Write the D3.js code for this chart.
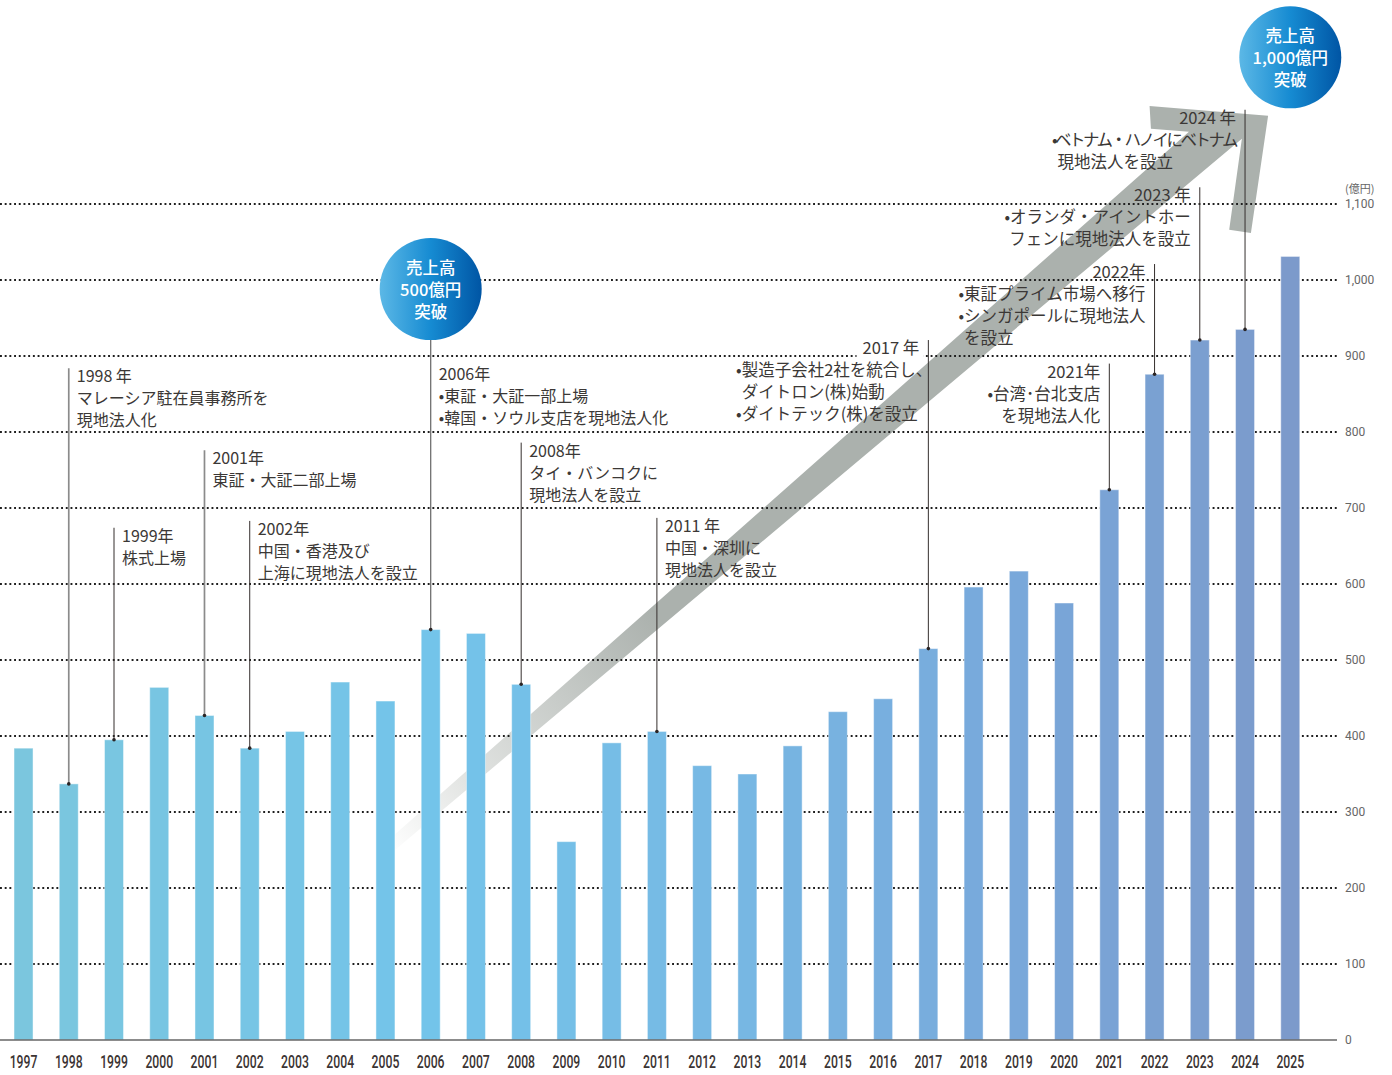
<!DOCTYPE html>
<html lang="ja">
<head>
<meta charset="utf-8">
<title>売上高推移と沿革</title>
<script src="https://cdn.jsdelivr.net/npm/d3@7"></script>
<style>
  html, body { margin: 0; padding: 0; background: #fff; }
  svg { display: block; }
</style>
</head>
<body>
<svg id="chart" width="1392" height="1075"></svg>
<script>
// ---- data -------------------------------------------------------------
const years = [1997, 1998, 1999, 2000, 2001, 2002, 2003, 2004, 2005, 2006,
               2007, 2008, 2009, 2010, 2011, 2012, 2013, 2014, 2015, 2016,
               2017, 2018, 2019, 2020, 2021, 2022, 2023, 2024, 2025];
// 売上高（億円）
const sales = [384, 337, 395, 464, 427, 384, 406, 471, 446, 540,
               535, 468, 261, 391, 406, 361, 350, 387, 432, 449,
               515, 596, 617, 575, 724, 876, 921, 935, 1031];

const yTicks = [0, 100, 200, 300, 400, 500, 600, 700, 800, 900, 1000, 1100];
const yTickLabels = ["0", "100", "200", "300", "400", "500", "600", "700", "800", "900", "1,000", "1,100"];
const unitLabel = "(億円)";

// 沿革
const milestoneYears = [1998, 1999, 2001, 2002, 2006, 2008, 2011, 2017, 2021, 2022, 2023, 2024];
const milestoneTitles = ["1998 年", "1999年", "2001年", "2002年", "2006年", "2008年",
                         "2011 年", "2017 年", "2021年", "2022年", "2023 年", "2024 年"];
const milestoneBodies = [
  ["マレーシア駐在員事務所を", "現地法人化"],
  ["株式上場"],
  ["東証・大証二部上場"],
  ["中国・香港及び", "上海に現地法人を設立"],
  ["•東証・大証一部上場", "•韓国・ソウル支店を現地法人化"],
  ["タイ・バンコクに", "現地法人を設立"],
  ["中国・深圳に", "現地法人を設立"],
  ["•製造子会社2社を統合し、", "ダイトロン(株)始動", "•ダイトテック(株)を設立"],
  ["•台湾･台北支店", "を現地法人化"],
  ["•東証プライム市場へ移行", "•シンガポールに現地法人", "を設立"],
  ["•オランダ・アイントホー", "フェンに現地法人を設立"],
  ["•ベトナム・ハノイにベトナム", "現地法人を設立"]
];

const bubbleYears = [2006, 2025];
const bubbleTexts = [["売上高", "500億円", "突破"], ["売上高", "1,000億円", "突破"]];

// ---- layout (chart units: year offset / 億円) --------------------------
// top: value at which the leader line and label block start
// side: "right" = text to the right of the leader, "left" = text to the left
const milestoneLayout = [
  { top: 884, side: "right", tone: "soft" },
  { top: 674, side: "right" },
  { top: 776, side: "right", tone: "soft" },
  { top: 683, side: "right" },
  { top: 887, side: "right", tone: "mid", fromBubble: 0 },
  { top: 786, side: "right" },
  { top: 687, side: "right" },
  { top: 921, side: "left", size: 16.5, knockout: true, bodyGap: -4 },
  { top: 890, side: "left", size: 16.5, align: "end" },
  { top: 1021, side: "left", size: 16.5 },
  { top: 1122, side: "left", size: 16.5, align: "end" },
  { top: 1224, side: "left", size: 16.5, tracking: [-2.5, 0] }
];
const bubbleCenters = [988, 1293];

// growth arrow outline, [year, 億円]
const arrowOutline = [
  [2024.51, 1216], [2024.13, 1062], [2023.65, 1066], [2023.93, 1186],
  [2005.15, 247], [2004.97, 258],
  [2022.76, 1195], [2021.92, 1199], [2021.89, 1229]
];

// ---- styles -------------------------------------------------------------
const textColor = "#3b3836";
const tickColor = "#666";
const jpFont = "'Noto Sans CJK JP', 'Noto Sans', sans-serif";
const numFont = "Roboto, 'Noto Sans', sans-serif";
const labelSize = 16;

// ---- scales --------------------------------------------------------------
const svg = d3.select("#chart");

const x = d3.scaleBand()
  .domain(years)
  .range([0.9, 1312.9])
  .paddingInner(0.58)
  .paddingOuter(0.29);
const y = d3.scaleLinear().domain([0, 1100]).range([1040, 204]);

const cx = yr => x(yr) + x.bandwidth() / 2;
const xAt = t => cx(years[0]) + (t - years[0]) * x.step();

const barColor = d3.scaleLinear()
  .domain([1997, 2006, 2012, 2018, 2025])
  .range(["#7bc6de", "#73c4ea", "#77b9e4", "#78aadc", "#7c9acb"])
  .interpolate(d3.interpolateRgb);

const defs = svg.append("defs");

const arrowGrad = defs.append("linearGradient")
  .attr("id", "arrowFade")
  .attr("gradientUnits", "userSpaceOnUse")
  .attr("x1", xAt(2005.0)).attr("y1", y(250))
  .attr("x2", xAt(2011.0)).attr("y2", y(560));
arrowGrad.append("stop").attr("offset", 0).attr("stop-color", "#ffffff");
arrowGrad.append("stop").attr("offset", 0.3).attr("stop-color", "#e2e4e2");
arrowGrad.append("stop").attr("offset", 1).attr("stop-color", "#abb1ad");

const bubbleGrad = defs.append("linearGradient")
  .attr("id", "bubbleFill")
  .attr("x1", 0).attr("y1", 0).attr("x2", 1).attr("y2", 0);
bubbleGrad.append("stop").attr("offset", 0).attr("stop-color", "#5cb8e6");
bubbleGrad.append("stop").attr("offset", 0.5).attr("stop-color", "#168bd2");
bubbleGrad.append("stop").attr("offset", 1).attr("stop-color", "#0055a4");

// ---- growth arrow ---------------------------------------------------------
const arrowLine = d3.line().x(d => xAt(d[0])).y(d => y(d[1]));
svg.append("path")
  .attr("d", arrowLine(arrowOutline) + "Z")
  .attr("fill", "url(#arrowFade)");

// ---- grid -------------------------------------------------------------------
svg.append("g")
  .selectAll("line")
  .data(yTicks.filter(v => v > 0))
  .join("line")
  .attr("x1", 0).attr("x2", 1338)
  .attr("y1", d => y(d)).attr("y2", d => y(d))
  .attr("stroke", "#1f1f1f")
  .attr("stroke-width", 1.9)
  .attr("stroke-dasharray", "1.9 2.8");

// ---- bars -------------------------------------------------------------------
svg.append("g")
  .selectAll("rect")
  .data(years)
  .join("rect")
  .attr("x", d => x(d))
  .attr("y", (d, i) => y(sales[i]))
  .attr("width", x.bandwidth())
  .attr("height", (d, i) => y(0) - y(sales[i]))
  .attr("fill", d => barColor(d))
  .attr("stroke", "rgba(255,255,255,0.45)")
  .attr("stroke-width", 1);

// baseline
svg.append("line")
  .attr("x1", 0).attr("x2", 1337)
  .attr("y1", y(0)).attr("y2", y(0))
  .attr("stroke", "#666").attr("stroke-width", 1.5);

// ---- axes -------------------------------------------------------------------
const xAxis = svg.append("g")
  .attr("transform", `translate(0,${y(0)})`)
  .call(d3.axisBottom(x).tickSize(0).tickPadding(0));
xAxis.select(".domain").remove();
xAxis.selectAll("text")
  .attr("y", 28).attr("dy", 0)
  .attr("transform", "scale(0.66,1)")
  .attr("font-family", numFont)
  .attr("font-size", 18.5)
  .attr("font-weight", 500)
  .attr("fill", "#3b3433");

const yAxis = svg.append("g")
  .attr("transform", "translate(1345,0)")
  .call(d3.axisRight(y).tickValues(yTicks).tickFormat((d, i) => yTickLabels[i]).tickSize(0).tickPadding(0));
yAxis.select(".domain").remove();
yAxis.selectAll("text")
  .attr("font-family", numFont)
  .attr("font-size", 12)
  .attr("fill", tickColor);

svg.append("text")
  .attr("x", 1345).attr("y", y(1100) - 16)
  .attr("dominant-baseline", "central")
  .attr("font-family", jpFont)
  .attr("font-size", 11)
  .attr("fill", tickColor)
  .text(unitLabel);

// ---- milestones -------------------------------------------------------------
const bubbleR = 51;
const leaders = svg.append("g");
const labels = svg.append("g");
const lineH = 22;

function bulletWidth(g) {
  const t = g.append("text").text("•");
  const w = t.node().getComputedTextLength();
  t.remove();
  return w;
}

milestoneYears.forEach((yr, i) => {
  const L = milestoneLayout[i];
  const lx = cx(yr);
  const barTop = y(sales[years.indexOf(yr)]);
  const lineTop = L.fromBubble !== undefined ? y(bubbleCenters[L.fromBubble]) + bubbleR : y(L.top);
  const tone = L.tone === "soft" ? { c: "#8b8b8b", w: 1.7 }
             : L.tone === "mid" ? { c: "#6f6f6f", w: 1.3 }
             : { c: "#352f2d", w: 1 };

  leaders.append("line")
    .attr("x1", lx).attr("x2", lx)
    .attr("y1", lineTop).attr("y2", barTop)
    .attr("stroke", tone.c).attr("stroke-width", tone.w);
  leaders.append("circle")
    .attr("cx", lx).attr("cy", barTop).attr("r", 1.8)
    .attr("fill", "#2b2525");

  const titleY = y(L.top) + 7;
  const body = milestoneBodies[i];
  const g = labels.append("g")
    .attr("font-family", jpFont)
    .attr("font-size", L.size || labelSize)
    .attr("fill", textColor);
  const hasBullets = body.some(s => s.startsWith("•"));
  const ind = hasBullets ? bulletWidth(g) : 0;
  const indentOf = s => (s.startsWith("•") ? 0 : ind);

  const makeBody = () => body.map((s, k) => g.append("text")
    .attr("y", titleY + lineH * (k + 1))
    .attr("dominant-baseline", "central")
    .attr("letter-spacing", L.tracking ? L.tracking[k] : null)
    .text(s));

  if (L.side === "right") {
    const x0 = lx + 8;
    g.append("text").attr("x", x0).attr("y", titleY)
      .attr("dominant-baseline", "central").text(milestoneTitles[i]);
    makeBody().forEach((t, k) => t.attr("x", x0 + indentOf(body[k])));
  } else {
    const xEnd = lx - 9;
    const title = g.append("text").attr("x", xEnd).attr("y", titleY)
      .attr("text-anchor", "end")
      .attr("dominant-baseline", "central").text(milestoneTitles[i]);
    if (L.knockout) {
      const bb = title.node().getBBox();
      g.insert("rect", "text")
        .attr("x", bb.x - 6).attr("y", titleY - 4)
        .attr("width", bb.width + 10).attr("height", 15)
        .attr("fill", "#fff");
    }
    const texts = makeBody();
    if (L.align === "end") {
      texts.forEach(t => t.attr("x", xEnd).attr("text-anchor", "end"));
    } else {
      const bodyEnd = lx - (L.bodyGap !== undefined ? L.bodyGap : 9);
      const widths = texts.map((t, k) => t.node().getComputedTextLength() + indentOf(body[k]));
      const left = bodyEnd - d3.max(widths);
      texts.forEach((t, k) => t.attr("x", left + indentOf(body[k])));
    }
  }
});

// ---- sales milestone bubbles ------------------------------------------------
bubbleYears.forEach((yr, i) => {
  const bx = cx(yr), by = y(bubbleCenters[i]);
  const g = svg.append("g");
  g.append("circle")
    .attr("cx", bx).attr("cy", by).attr("r", bubbleR)
    .attr("fill", "url(#bubbleFill)");
  bubbleTexts[i].forEach((s, k) => {
    g.append("text")
      .attr("x", bx).attr("y", by + (k - 1) * 22)
      .attr("text-anchor", "middle")
      .attr("dominant-baseline", "central")
      .attr("font-family", jpFont)
      .attr("font-size", 16.5)
      .attr("font-weight", 500)
      .attr("fill", "#fff")
      .text(s);
  });
});
</script>
</body>
</html>
